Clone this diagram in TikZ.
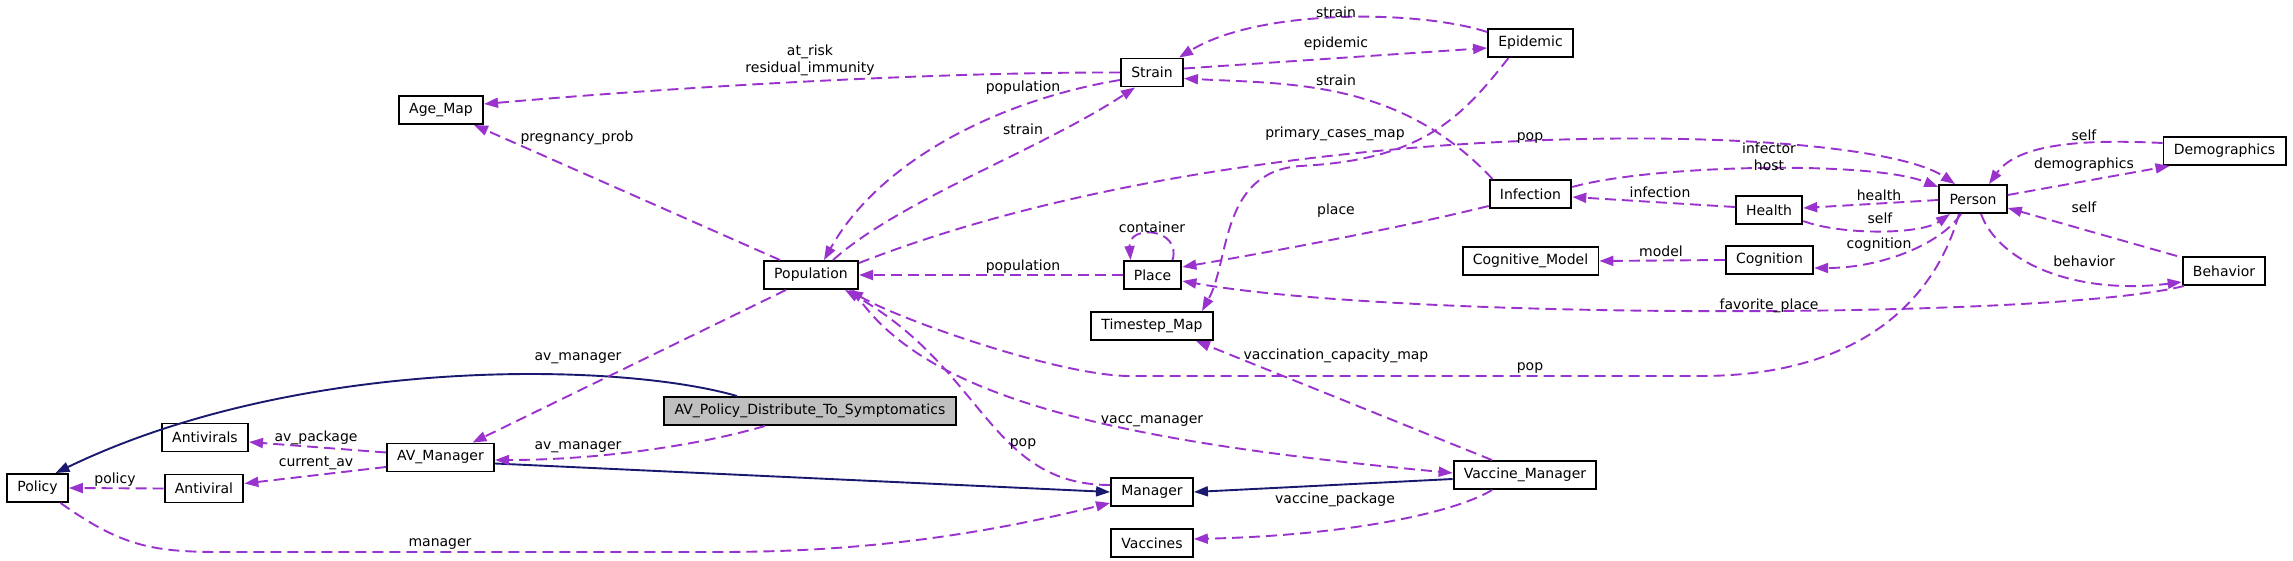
\documentclass[tikz,border=0pt]{standalone}
\usepackage{fontspec}
\setmainfont{DejaVu Sans}
\usepackage{tikz}
\usetikzlibrary{arrows.meta}
\definecolor{memcol}{HTML}{9A32CD}
\definecolor{inhcol}{HTML}{191970}
\definecolor{avgray}{HTML}{BFBFBF}

\begin{document}
\begin{tikzpicture}[x=1pt,y=-1pt,
  cls/.style={draw=black,line width=1.9pt,fill=#1,inner xsep=10.3pt,inner ysep=0pt,minimum height=28pt,font=\fontsize{14}{17.5}\selectfont},
  cls/.default=white,
  mem/.style={memcol,line width=1.9pt,dash pattern=on 11pt off 6pt,-{Triangle[length=14pt,width=10pt]}},
  inh/.style={inhcol,line width=1.9pt,-{Triangle[length=14pt,width=10pt]}},
  lab/.style={font=\fontsize{14}{17.5}\selectfont,text=black,inner sep=0pt,anchor=base}]
\useasboundingbox[fill=white] (0,0) rectangle (2293,561);
\node[cls] (policy) at (37.5,488) {Policy};
\node[cls] (antivirals) at (205,437.5) {Antivirals};
\node[cls] (antiviral) at (204,488.5) {Antiviral};
\node[cls] (avmgr) at (440.5,457.5) {AV\_Manager};
\node[cls=avgray] (avpol) at (810,411) {AV\_Policy\_Distribute\_To\_Symptomatics};
\node[cls] (agemap) at (441,110) {Age\_Map};
\node[cls] (population) at (811,275) {Population};
\node[cls] (strain) at (1152,72.5) {Strain};
\node[cls] (epidemic) at (1530.5,43) {Epidemic};
\node[cls] (place) at (1152.5,275) {Place};
\node[cls] (timestep) at (1152,326) {Timestep\_Map};
\node[cls] (infection) at (1530.5,194) {Infection};
\node[cls] (cogmodel) at (1530.5,261) {Cognitive\_Model};
\node[cls] (health) at (1769,210) {Health};
\node[cls] (cognition) at (1769.5,260) {Cognition};
\node[cls] (person) at (1973,199) {Person};
\node[cls] (demographics) at (2224.5,151) {Demographics};
\node[cls] (behavior) at (2224,271) {Behavior};
\node[cls] (manager) at (1152,492) {Manager};
\node[cls] (vaccmgr) at (1525,475) {Vaccine\_Manager};
\node[cls] (vaccines) at (1152,543) {Vaccines};

\draw[inh] ([xshift=-73pt]avpol.north) .. controls (620,362) and (300,355) .. ([xshift=18pt]policy.north);
\draw[inh] ([yshift=-6pt]avmgr.east) -- (manager.west);
\draw[inh] ([yshift=-4pt]vaccmgr.west) -- (manager.east);

\draw[mem] (antiviral.west) -- (policy.east) node[lab] at (115,483.5) {policy};
\draw[mem] ([yshift=5pt]avmgr.west) -- ([yshift=-4.5pt]antivirals.east) node[lab] at (316,441.5) {av\_package};
\draw[mem] ([yshift=-9.5pt]avmgr.west) -- ([yshift=5pt]antiviral.east) node[lab] at (316,466.5) {current\_av};
\draw[mem] ([xshift=-45pt]avpol.south) .. controls (700,445) and (600,460) .. ([yshift=-2.5pt]avmgr.east) node[lab] at (578,449) {av\_manager};
\draw[mem] ([xshift=-25pt]population.south) -- ([xshift=32pt]avmgr.north) node[lab] at (578,360.5) {av\_manager};
\draw[mem] ([xshift=-31pt]population.north) -- ([xshift=33pt]agemap.south) node[lab] at (577,141.5) {pregnancy\_prob};
\draw[mem] (strain.west) .. controls (950,72) and (700,85) .. ([yshift=6pt]agemap.east) node[lab,anchor=center,align=center] at (810,60.5) {at\_risk\\residual\_immunity};
\draw[mem] ([yshift=-7.5pt]strain.west) .. controls (1000,100) and (880,160) .. ([xshift=13pt]population.north) node[lab] at (1023,92) {population};
\draw[mem] ([xshift=22pt]population.north) .. controls (900,200) and (1040,150) .. ([xshift=-17pt]strain.south) node[lab] at (1023,134.5) {strain};
\draw[mem] (place.west) -- (population.east) node[lab] at (1023,270) {population};
\draw[mem] ([xshift=20pt]place.north) .. controls (1182,228) and (1128,224) .. ([xshift=-22pt]place.north) node[lab] at (1152,233) {container};
\draw[mem] ([yshift=11pt]epidemic.west) .. controls (1420,10) and (1260,8) .. ([xshift=27pt]strain.north) node[lab] at (1336,18) {strain};
\draw[mem] ([yshift=4pt]strain.east) -- ([yshift=-5pt]epidemic.west) node[lab] at (1336,47.5) {epidemic};
\draw[mem] ([xshift=-38pt]infection.north) .. controls (1400,80) and (1290,84) .. ([yshift=-6pt]strain.east) node[lab] at (1336,86) {strain};
\draw[mem] ([xshift=-22pt]epidemic.south) .. controls (1460,120) and (1420,160) .. (1300,166) .. controls (1220,172) and (1230,260) .. ([xshift=50pt]timestep.north) node[lab] at (1335,137.5) {primary\_cases\_map};
\draw[mem] ([yshift=-12pt]infection.west) .. controls (1400,228) and (1270,252) .. ([yshift=8pt]place.east) node[lab] at (1336,214.5) {place};
\draw[mem] ([yshift=12pt]population.east) .. controls (1250,110) and (1860,120) .. ([xshift=-18pt]person.north) node[lab] at (1530,141) {pop};
\draw[mem] ([yshift=7pt]infection.east) .. controls (1650,165) and (1870,160) .. ([yshift=12pt]person.west) node[lab,anchor=center,align=center] at (1769,157) {infector\\host};
\draw[mem] ([yshift=3pt]health.west) -- ([yshift=-3pt]infection.east) node[lab] at (1660,197.5) {infection};
\draw[mem] ([yshift=-1pt]person.west) -- ([yshift=2pt]health.east) node[lab] at (1879,200.5) {health};
\draw[mem] ([yshift=-11pt]health.east) .. controls (1840,235) and (1920,235) .. ([xshift=-23pt]person.south) node[lab] at (1880,224) {self};
\draw[mem] ([xshift=-12pt]person.south) .. controls (1940,245) and (1880,268) .. ([yshift=-8pt]cognition.east) node[lab] at (1879,248.5) {cognition};
\draw[mem] (cognition.west) -- (cogmodel.east) node[lab] at (1661,256.5) {model};
\draw[mem] ([yshift=4pt]person.east) -- ([xshift=-55pt]demographics.south) node[lab] at (2084,168.5) {demographics};
\draw[mem] ([yshift=8pt]demographics.west) .. controls (2100,140) and (2020,140) .. ([xshift=16pt]person.north) node[lab] at (2084,140.5) {self};
\draw[mem] ([xshift=-47pt]behavior.north) -- ([yshift=-9pt]person.east) node[lab] at (2084,213) {self};
\draw[mem] ([xshift=8pt]person.south) .. controls (2000,265) and (2080,295) .. ([yshift=-11pt]behavior.west) node[lab] at (2084,266) {behavior};
\draw[mem] ([xshift=-40pt]behavior.south) .. controls (2050,320) and (1400,320) .. ([yshift=-6pt]place.east) node[lab] at (1769,309.5) {favorite\_place};
\draw[mem] ([xshift=-14pt]person.south) .. controls (1935,300) and (1860,376) .. (1700,376) -- (1130,376) .. controls (1060,376) and (900,320) .. ([xshift=38pt]population.south) node[lab] at (1530,370.5) {pop};
\draw[mem] ([yshift=7pt]manager.west) .. controls (990,485) and (985,370) .. ([xshift=34pt]population.south) node[lab] at (1023,446) {pop};
\draw[mem] ([xshift=42pt]population.south) .. controls (920,395) and (1100,440) .. ([yshift=2pt]vaccmgr.west) node[lab] at (1152,423) {vacc\_manager};
\draw[mem] ([xshift=-33pt]vaccmgr.north) -- ([xshift=44pt]timestep.south) node[lab] at (1336,359) {vaccination\_capacity\_map};
\draw[mem] ([xshift=-33pt]vaccmgr.south) .. controls (1460,510) and (1360,535) .. ([yshift=4pt]vaccines.east) node[lab] at (1335,503.5) {vaccine\_package};
\draw[mem] ([xshift=23pt]policy.south) .. controls (120,545) and (150,552) .. (220,552) -- (720,552) .. controls (880,552) and (1000,530) .. ([yshift=-11pt]manager.west) node[lab] at (440,546) {manager};
\end{tikzpicture}
\end{document}
